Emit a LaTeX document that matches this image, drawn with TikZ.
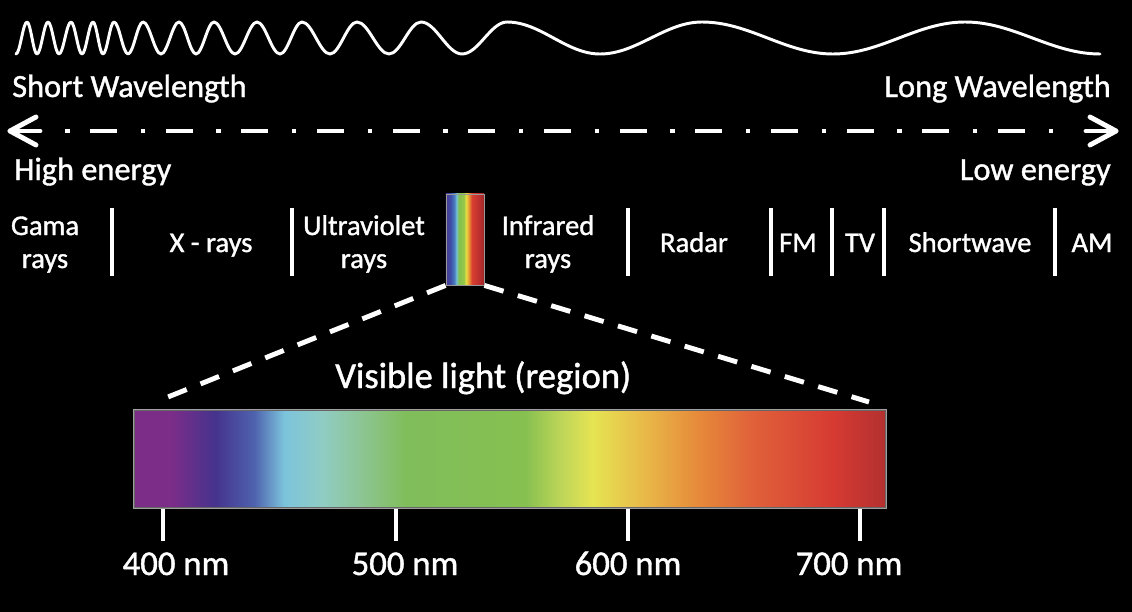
\documentclass[tikz,border=0pt]{standalone}
\usepackage{fontspec}
\setmainfont{Carlito}[FakeBold=1.2]
\definecolor{v0}{HTML}{7B2D88}
\definecolor{v1}{HTML}{45338D}
\definecolor{v2}{HTML}{4E62AE}
\definecolor{v3}{HTML}{7CC4DC}
\definecolor{v4}{HTML}{90CCC4}
\definecolor{v5}{HTML}{8CC48C}
\definecolor{v6}{HTML}{80BE5C}
\definecolor{v7}{HTML}{86C050}
\definecolor{v8}{HTML}{C0D658}
\definecolor{v9}{HTML}{E6E452}
\definecolor{v10}{HTML}{E8B848}
\definecolor{v11}{HTML}{E68A3A}
\definecolor{v12}{HTML}{E0623A}
\definecolor{v13}{HTML}{D63A32}
\definecolor{v14}{HTML}{B23030}
\definecolor{s0}{HTML}{4B3A92}
\definecolor{s1}{HTML}{3E4FA6}
\definecolor{s2}{HTML}{4A7CC0}
\definecolor{s3}{HTML}{78C4D4}
\definecolor{s4}{HTML}{80C050}
\definecolor{s5}{HTML}{98C848}
\definecolor{s6}{HTML}{E8DC44}
\definecolor{s7}{HTML}{E89A34}
\definecolor{s8}{HTML}{D84030}
\definecolor{s9}{HTML}{C03030}
\definecolor{s10}{HTML}{A02828}
\pgfdeclarehorizontalshading{visible}{100bp}{color(0bp)=(v0); color(25bp)=(v0); color(27.5bp)=(v0);
 color(30.4bp)=(v1); color(33bp)=(v2); color(35bp)=(v3); color(37.5bp)=(v4); color(40.5bp)=(v5);
 color(43bp)=(v6); color(51bp)=(v7); color(53.5bp)=(v8); color(55.5bp)=(v9); color(59bp)=(v10);
 color(62.5bp)=(v11); color(66bp)=(v12); color(71.5bp)=(v13); color(75bp)=(v14); color(100bp)=(v14)}
\pgfdeclarehorizontalshading{smallspec}{100bp}{color(0bp)=(s0); color(25bp)=(s0);
 color(31bp)=(s1); color(36bp)=(s2); color(39bp)=(s3); color(41.5bp)=(s4); color(48.5bp)=(s5);
 color(51.5bp)=(s6); color(55bp)=(s7); color(59bp)=(s8); color(67.5bp)=(s9); color(75bp)=(s10); color(100bp)=(s10)}
\begin{document}
\begin{tikzpicture}[x=0.025cm,y=-0.025cm,
  top/.style={text=white, inner sep=0pt, font=\fontsize{23}{27}\selectfont},
  band/.style={text=white, inner sep=0pt, font=\fontsize{20.3}{24}\selectfont},
  nm/.style={text=white, inner sep=0pt, font=\fontsize{24.7}{29}\selectfont},
  vis/.style={text=white, inner sep=0pt, font=\fontsize{26}{30}\selectfont},
  sep/.style={draw=white, line width=2.8pt},
  wave/.style={draw=white, line width=2.1pt, line cap=round, line join=round},
  axisline/.style={draw=white, line width=3.5pt, dash pattern=on 3.2pt off 14.7pt on 19.1pt off 16.8pt},
  arrowhead/.style={draw=white, line width=3.5pt, line cap=round, line join=round},
  zoomline/.style={draw=white, line width=3.5pt, dash pattern=on 14.2pt off 10.6pt},
  tickline/.style={draw=white, line width=2.8pt}]
\fill[black] (0,0) rectangle (1132,612);
\useasboundingbox (0,0) rectangle (1132,612);

% wave
\draw[wave] (16,54) \foreach \x [count=\i, remember=\x as \lx (initially 16),
   evaluate=\i as \ya using {ifthenelse(mod(\i,2)==1,54,22)},
   evaluate=\i as \yb using {ifthenelse(mod(\i,2)==1,22,54)},
   evaluate=\x as \c using {0.364*(\x-\lx)}]
  in {27,37,48,59,71,82,93,103,114,128,143,161,179,196,214,235,257,280,302,330,357,389,421,462,507,600,702,833,965,1100}
  { .. controls (\lx+\c,\ya) and (\x-\c,\yb) .. (\x,\yb) };

\node[top, anchor=base west] (sw) at (12,97) {Short Wavelength};
\node[top, anchor=base east] (lw) at (1111,97) {Long Wavelength};

% axis arrow
\coordinate (La) at (10,131); \coordinate (Lb) at (40,131);
\coordinate (Lu) at (36,117); \coordinate (Ld) at (36,145);
\coordinate (Ra) at (1116,131); \coordinate (Rb) at (1086,131);
\coordinate (Ru) at (1090,117); \coordinate (Rd) at (1090,145);
\coordinate (A1) at (65,131); \coordinate (A2) at (1058,131);
\draw[axisline] (A1) -- (A2);
\draw[arrowhead] (Lu) -- (La) -- (Ld);
\draw[arrowhead] (La) -- (Lb);
\draw[arrowhead] (Ru) -- (Ra) -- (Rd);
\draw[arrowhead] (Ra) -- (Rb);

\node[top, anchor=base west] (he) at (14,180) {High energy};
\node[top, anchor=base east] (le) at (1111,180) {Low energy};

% bands
\node[band, anchor=base] (g1) at (45,235) {Gama};
\node[band, anchor=base] (g2) at (45,268) {rays};
\node[band, anchor=base] (xr) at (211,252) {X - rays};
\node[band, anchor=base] (u1) at (364,235) {Ultraviolet};
\node[band, anchor=base] (u2) at (364,268) {rays};
\node[band, anchor=base] (i1) at (548,235) {Infrared};
\node[band, anchor=base] (i2) at (548,268) {rays};
\node[band, anchor=base] (rd) at (694,252) {Radar};
\node[band, anchor=base] (fm) at (798,252) {FM};
\node[band, anchor=base] (tv) at (860,252) {TV};
\node[band, anchor=base] (sh) at (970,252) {Shortwave};
\node[band, anchor=base] (am) at (1092,252) {AM};
\foreach \sx [count=\k] in {112,292,628,771,832,884,1055} {
  \coordinate (st\k) at (\sx,208); \coordinate (sb\k) at (\sx,276);
  \draw[sep] (st\k) -- (sb\k);
}

% small spectrum box
\node[shade, shading=smallspec, draw=gray!80, line width=0.6pt, inner sep=0pt,
  minimum width=0.95cm, minimum height=2.275cm] (sbox) at (465,239.5) {};

% zoom lines
\coordinate (vl) at (158,401);
\coordinate (vr) at (869,402);
\draw[zoomline] (sbox.south west) -- (vl);
\draw[zoomline] (sbox.south east) -- (vr);

\node[vis, anchor=base west] (vt) at (335,388) {Visible light (region)};

% visible bar
\node[shade, shading=visible, draw=gray!75, line width=1.4pt, inner sep=0pt,
  minimum width=18.8cm, minimum height=2.45cm] (bar) at (510,459) {};
\draw[black!60, line width=0.8pt] ([shift={(0.03cm,-0.03cm)}]bar.north west) rectangle ([shift={(-0.03cm,0.03cm)}]bar.south east);

\foreach \tx/\lx/\lab [count=\k] in {163/176/400,396/405/500,628/628/600,860/849/700} {
  \coordinate (ta\k) at (\tx,509); \coordinate (tb\k) at (\tx,541);
  \draw[tickline] (ta\k) -- (tb\k);
  \node[nm, anchor=base] (n\k) at (\lx,575) {\lab\ nm};
}
\end{tikzpicture}
\end{document}
